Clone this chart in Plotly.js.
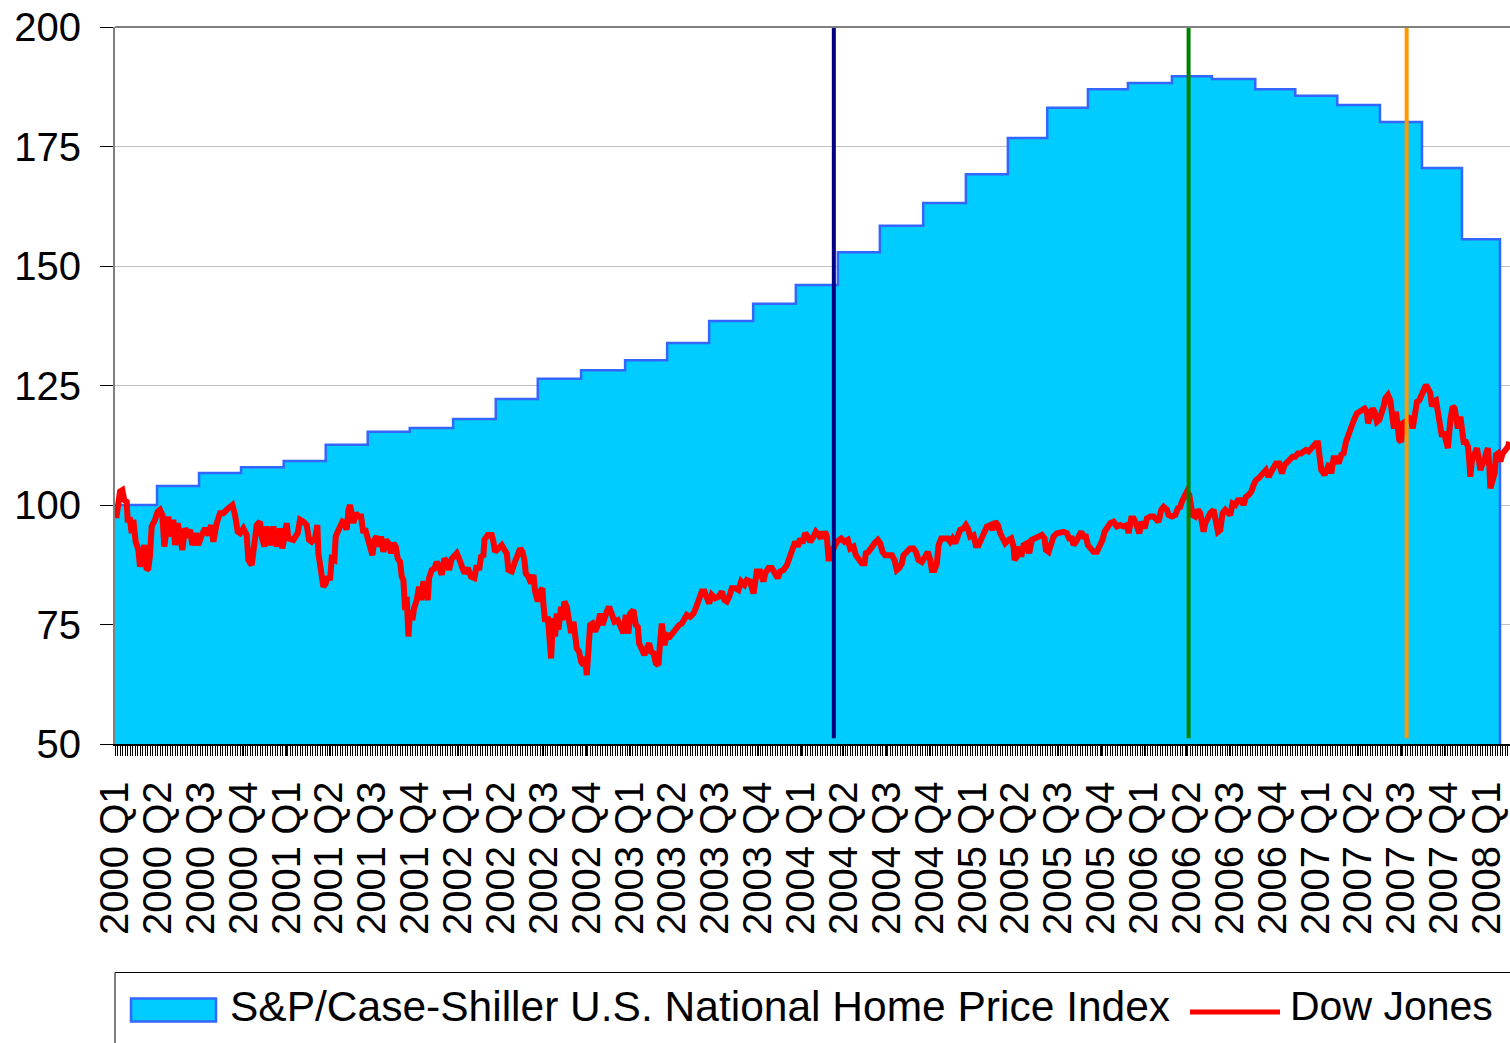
<!DOCTYPE html>
<html><head><meta charset="utf-8">
<script src="https://cdn.plot.ly/plotly-3.0.1.min.js"></script>
<style>html,body{margin:0;padding:0;background:#fff}#chart{width:1510px;height:1043px}</style>
</head><body><div id="chart"></div>
<script>
// Quarter tick labels
const quarterLabels = ["2000 Q1","2000 Q2","2000 Q3","2000 Q4","2001 Q1","2001 Q2","2001 Q3","2001 Q4",
  "2002 Q1","2002 Q2","2002 Q3","2002 Q4","2003 Q1","2003 Q2","2003 Q3","2003 Q4",
  "2004 Q1","2004 Q2","2004 Q3","2004 Q4","2005 Q1","2005 Q2","2005 Q3","2005 Q4",
  "2006 Q1","2006 Q2","2006 Q3","2006 Q4","2007 Q1","2007 Q2","2007 Q3","2007 Q4","2008 Q1"];
// S&P/Case-Shiller quarterly index (2000 Q1 = 100)
const hpiValues = [100,104.0,106.7,107.9,109.2,112.6,115.3,116.1,118.0,122.2,126.4,128.2,130.3,133.9,138.5,142.1,
  146.0,152.9,158.4,163.2,169.2,176.8,183.1,187.0,188.3,189.7,189.1,187.0,185.6,183.7,180.1,170.5,155.6];
// trading-day index at which each quarter starts
const quarterStartDay = [0,63,126,189,253,316,379,442,507,571,634,699,765,828,891,957,
  1021,1084,1147,1212,1276,1339,1398,1459,1519,1585,1645,1710,1770,1833,1897,1960,2020];
const hpiEndDay = 2077;
// Dow Jones (2000-01-03 = 100), by trading-day index
const dowDay = [0,2,7.5,11,14,17.5,19,22.5,25,27.5,31,35,37.5,41,44,47.5,50,52.5,55,60,64,67.5,71,74,77.5,80,82.5,87.5,90,94,97.5,101,105,109,112.5,116,121,125,130,135,140,144,147.5,152.5,157.5,162.5,167.5,172.5,176,180,184,187.5,192.5,197.5,200,205,207.5,212.5,217.5,220,224,227.5,232.5,237.5,242.5,247.5,251,255,
  257.5,260,267.5,274,277.5,282.5,287.5,291,295,300,303.5,305,307.5,310,312.5,316,319,322.5,325,329,331,334,337.5,341,344,347.5,350,352.5,355,357.5,361,365,369,372.5,375,379,382.5,386,389,392.5,396,399,402.5,406,410,414,417.5,421,424,427.5,430,432.5,435,437.5,440,442.5,446,448.5,452.5,456,459,462.5,465,469,471,475,479,482.5,486,490,494,497.5,501,505,510,
  512.5,516,520,524,529,534,539,542.5,546,549,552.5,554,559,565,567.5,570,575,580,584,587.5,590,595,600,604,607.5,611,614,616,620,624,627.5,630,634,637.5,641,642.5,645,649,651,654,656,657.5,660,662.5,665,669,671,674,677.5,681,684,687.5,690,692.5,696,699,702.5,705,707.5,710,712.5,716,720,724,727.5,731,734,737.5,741,745,749,754,757.5,762.5,
  766,770,772.5,777.5,781,784,786,790,794,797.5,801,804,807.5,811,815,817.5,820,824,827.5,832.5,837.5,842.5,846,850,854,857.5,862.5,867.5,871,874,877.5,880,884,887.5,891,895,900,905,910,914,917.5,921,925,930,935,939,944,947.5,952.5,957.5,960,962.5,967.5,972.5,975,980,985,990,994,997.5,1002.5,1007.5,1012.5,
  1020,1024,1027.5,1031,1035,1039,1042.5,1047.5,1051,1055,1057.5,1061,1065,1067.5,1070,1074,1077.5,1082.5,1089,1094,1099,1102.5,1107.5,1111,1115,1120,1124,1126,1130,1134,1139,1144,1147.5,1151,1155,1160,1165,1169,1172.5,1176,1180,1182.5,1187.5,1192.5,1197.5,1201,1205,1210,1215,1219,1222.5,1225,1229,1232.5,1235,1239,1244,1249,1252.5,1256,1260,1264,1267.5,1272.5,
  1276,1279,1282.5,1287.5,1291,1295,1299,1302.5,1307.5,1312.5,1316,1320,1324,1327.5,1331,1335,1340,1344,1347.5,1349,1352.5,1356,1359,1362.5,1367.5,1371,1375,1380,1385,1390,1394,1396,1400,1404,1407.5,1412.5,1417.5,1422.5,1427.5,1431,1435,1437.5,1441,1445,1449,1452.5,1456,1459,1462.5,1467.5,1472.5,1477.5,1481,1484,1487.5,1492.5,1497.5,1502.5,1507.5,1512.5,1517.5,1520,1524,1527.5,1531,
  1536,1540,1544,1547.5,1552.5,1557.5,1561,1565,1569,1572.5,1577.5,1580,1585,1590,1594,1597.5,1600,1604,1607.5,1611,1614,1616,1620,1624,1627.5,1630,1632.5,1635,1639,1642.5,1647.5,1651,1654,1657.5,1661,1665,1669,1672.5,1676,1680,1684,1689,1692.5,1696,1700,1704,1707.5,1711,1715,1719,1722.5,1726,1730,1734,1737.5,1741,1746,1750,1754,1757.5,1761,1766,1770,1774,1779,1782.5,1786,1790,1794,1797.5,1801,1804,
  1806,1809,1814,1817.5,1821,1824,1827.5,1831,1835,1839,1842.5,1846,1849,1852.5,1856,1859,1862.5,1866,1870,1874,1877.5,1879,1882.5,1886,1889,1892.5,1896,1899,1902.5,1905,1909,1912.5,1915,1918,1921,1924,1926,1929,1931,1935,1939,1942.5,1946,1949,1952.5,1956,1959,1962.5,1966,1969,1972.5,1975,1977.5,1981,1984,1987.5,1990,1992.5,1996,1999,2002.5,2006,2009,2011,2014,2017.5,2020,2022.5,2026,2029,2031,2032.5,2035,2039,2042.5,2045,2047.5,2050,2054,2056,2059,2061,2062.5,2066,2069,2071,2074,2077.5,2081,2085,2089,2091];
const dowValue = [100,97.3,102.8,103.1,101.0,100.7,96.9,96.9,94.1,96.9,92.3,90.6,87.1,89.5,91.6,86.4,86.7,89.5,95.5,96.9,98.6,99.0,97.9,91.3,96.9,97.6,93.4,96.9,91.6,96.2,93.4,90.6,95.1,94.1,94.8,91.6,94.1,91.6,93.7,95.1,93.7,95.8,92.3,96.2,98.3,98.3,99.0,99.7,100.0,97.9,94.4,94.1,95.1,93.7,88.5,87.4,91.3,95.8,96.5,93.4,91.3,95.5,91.6,95.5,91.3,95.1,90.9,95.8,
  96.2,93.0,92.7,94.1,96.9,96.5,95.8,92.7,92.3,93.0,95.8,89.9,87.5,84.3,82.9,83.6,85.0,84.3,88.8,88.5,93.4,94.4,95.5,96.5,96.2,94.8,99.0,100.0,98.3,96.2,98.3,97.6,97.6,94.1,95.1,93.0,92.3,89.5,92.7,93.4,91.3,93.4,90.2,92.7,92.0,89.9,92.0,91.3,88.8,88.1,85.0,84.3,78.0,80.8,72.5,78.0,75.9,78.4,80.1,82.9,80.1,84.0,82.9,80.1,84.7,86.4,86.7,88.1,87.1,85.4,88.8,88.1,86.4,88.8,89.5,
  89.9,88.8,87.4,85.7,86.8,85.0,84.7,87.4,86.4,89.2,89.5,92.7,93.7,93.7,92.3,90.2,90.9,91.6,90.6,89.9,86.4,86.1,88.2,90.2,90.9,90.2,88.5,85.7,85.0,83.6,85.4,81.9,79.8,81.9,82.6,79.1,75.6,76.6,70.7,67.9,73.5,76.3,72.5,77.3,73.9,78.7,75.9,79.8,78.7,76.3,73.2,75.6,73.5,70.0,69.3,67.2,66.5,68.3,64.4,69.3,74.9,75.2,73.5,74.9,77.3,74.9,76.6,77.7,78.7,77.0,75.6,75.9,74.9,73.2,
  77.0,73.1,77.3,78.0,74.9,74.5,71.1,69.7,68.6,70.0,71.1,69.3,69.0,66.9,66.5,71.4,75.2,70.7,72.8,72.5,73.5,74.5,74.9,75.2,76.3,77.0,76.6,77.3,78.4,79.8,80.5,81.9,81.9,80.1,79.4,81.2,80.5,80.8,81.9,80.1,79.8,80.8,82.6,82.6,82.2,84.0,83.3,84.3,84.0,81.5,83.6,86.1,86.1,84.0,85.7,86.8,86.8,85.4,84.7,86.1,86.4,87.4,89.2,
  92.3,91.3,93.0,92.0,94.1,93.4,92.3,93.4,94.4,93.7,94.4,93.0,94.4,93.4,88.8,88.8,90.9,92.3,93.0,92.3,92.7,90.9,91.3,89.5,88.5,87.8,87.8,89.9,90.2,91.3,92.0,92.7,92.0,90.2,89.5,89.5,89.5,88.5,86.4,86.8,87.8,89.5,90.2,90.9,90.9,90.2,88.5,88.1,89.2,90.2,88.5,86.4,86.4,87.8,91.6,93.0,93.0,93.0,92.3,93.0,92.0,94.1,94.8,95.1,
  95.8,95.1,93.4,93.7,91.6,91.6,93.0,94.4,95.5,95.8,94.8,96.5,95.8,94.1,93.0,92.0,92.7,93.0,91.3,88.5,89.2,91.3,89.2,91.6,92.0,89.9,92.7,93.0,93.4,93.7,93.0,90.6,90.2,92.0,93.4,94.1,94.4,94.4,94.1,93.0,93.0,91.6,92.3,93.7,94.4,93.4,93.4,91.6,90.9,90.2,90.2,91.6,92.7,94.4,95.1,96.2,96.5,95.5,95.8,95.5,95.8,94.1,97.2,97.2,96.2,
  94.1,96.5,95.1,97.2,97.6,97.6,97.2,96.5,99.0,99.6,99.0,97.9,97.6,97.9,99.3,99.6,100.7,101.7,102.8,102.1,99.6,97.9,97.6,99.0,98.3,96.5,94.4,96.2,97.6,98.3,99.0,96.9,94.4,94.8,98.3,99.0,98.6,97.9,100.3,100.0,101.0,101.0,100.0,101.7,102.1,102.8,104.2,105.2,105.6,106.3,107.0,107.3,105.9,107.0,108.4,108.7,108.7,106.6,108.4,109.1,109.4,110.1,110.1,110.8,110.8,111.2,111.5,111.2,111.9,112.2,112.9,112.9,
  110.0,107.3,106.3,107.7,108.7,106.6,109.8,109.8,108.7,110.5,110.8,113.2,114.6,115.7,117.1,118.1,119.2,119.5,119.9,120.2,119.5,117.1,118.5,120.2,119.5,117.4,117.8,118.8,120.6,122.3,123.0,121.9,118.5,116.0,119.5,116.4,113.6,113.2,117.1,117.4,117.8,118.5,116.0,119.9,121.6,121.9,123.0,124.4,125.1,124.4,123.4,120.6,121.6,121.9,118.8,117.1,114.3,115.3,113.2,111.9,117.8,120.6,120.2,118.5,116.0,118.5,116.0,113.2,113.2,112.2,109.1,105.9,109.4,111.2,111.9,109.8,107.3,108.4,109.4,110.8,111.9,108.0,103.5,105.2,106.6,110.5,110.8,109.1,110.8,111.5,112.2,113.2];
// vertical event markers (trading-day index)
const eventDay = [1078, 1610, 1937];
const eventColor = ["#000080", "#008000", "#ff9900"];

const yMin = 50, yMax = 200;
const xMax = 2092;
const labelInterval = 64.3;
const FONT = "Liberation Sans, Arial, Helvetica, sans-serif";

const areaX = quarterStartDay.concat([hpiEndDay, hpiEndDay]);
const areaY = hpiValues.concat([hpiValues[hpiValues.length - 1], yMin]);

const traces = [
  {type: "scatter", mode: "lines", name: "S&P/Case-Shiller U.S. National Home Price Index",
   x: areaX, y: areaY, line: {shape: "hv", color: "#3366ff", width: 2.5},
   fill: "tozeroy", fillcolor: "#00ccff", hoverinfo: "skip"},
  {type: "scatter", mode: "lines", name: "Dow Jones",
   x: dowDay, y: dowValue, line: {color: "#ff0000", width: 6}, hoverinfo: "skip"}
];

const shapes = eventDay.map((d, i) => ({
  type: "line", xref: "x", yref: "y", x0: d, x1: d, y0: yMin + 1.2, y1: yMax,
  line: {color: eventColor[i], width: 4}, layer: "above"
}));
// top frame
shapes.push({type: "line", xref: "paper", yref: "paper", x0: 0, x1: 1, y0: 1, y1: 1,
  line: {color: "#808080", width: 2}, layer: "above"});
// legend box and symbols
const px = v => (v - 115) / 1395;
const py = v => (744 - v) / 717;
shapes.push({type: "rect", xref: "paper", yref: "paper", x0: 0, x1: 1.05, y0: py(1100), y1: py(972.5),
  line: {color: "#000", width: 1}, fillcolor: "rgba(0,0,0,0)"});
shapes.push({type: "rect", xref: "paper", yref: "paper", x0: px(131), x1: px(216), y0: py(1021.5), y1: py(998.5),
  line: {color: "#3366ff", width: 2.5}, fillcolor: "#00ccff"});
shapes.push({type: "line", xref: "paper", yref: "paper", x0: px(1190), x1: px(1280), y0: py(1012), y1: py(1012),
  line: {color: "#ff0000", width: 5}});

const annotations = [
  {text: traces[0].name, xref: "paper", yref: "paper", x: px(228), y: py(1006), xanchor: "left", yanchor: "middle",
   showarrow: false, font: {family: FONT, size: 42.5, color: "#000"}},
  {text: traces[1].name, xref: "paper", yref: "paper", x: px(1288), y: py(1006), xanchor: "left", yanchor: "middle",
   showarrow: false, font: {family: FONT, size: 41, color: "#000"}}
];

const layout = {
  width: 1510, height: 1043,
  margin: {l: 115, r: 0, t: 27, b: 299, pad: 0},
  paper_bgcolor: "#fff", plot_bgcolor: "#fff",
  showlegend: false,
  font: {family: FONT, color: "#000"},
  xaxis: {
    range: [0, xMax], tickmode: "array",
    tickvals: quarterLabels.map((_, i) => i * labelInterval), ticktext: quarterLabels,
    tickangle: -90, tickfont: {family: FONT, size: 40, color: "#000"},
    ticks: "outside", ticklen: 10, tickcolor: "#000", tickwidth: 1,
    ticklabelstandoff: 10, ticklabeloverflow: "allow",
    minor: {ticks: "outside", ticklen: 10, tickcolor: "#000", tickwidth: 1, tick0: 0, dtick: 3.75, showgrid: false},
    showgrid: false, zeroline: false, showline: true, linecolor: "#000", linewidth: 1.5
  },
  yaxis: {
    range: [yMin, yMax], tickmode: "linear", tick0: yMin, dtick: 25,
    ticks: "outside", ticklen: 13, tickcolor: "#000", tickwidth: 1,
    tickfont: {family: FONT, size: 40, color: "#000"}, ticklabelstandoff: 11,
    showgrid: true, gridcolor: "#c0c0c0", gridwidth: 1,
    zeroline: false, showline: true, linecolor: "#808080", linewidth: 2
  },
  shapes: shapes,
  annotations: annotations
};

Plotly.newPlot("chart", traces, layout, {staticPlot: true, displayModeBar: false});
</script>
</body></html>
